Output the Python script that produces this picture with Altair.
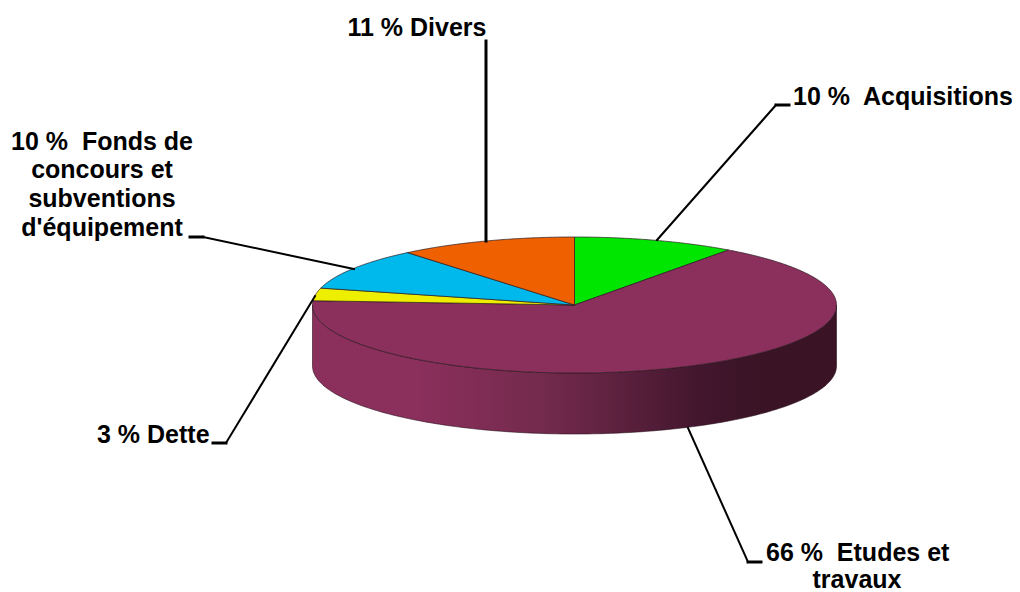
import numpy as np
import pandas as pd
import altair as alt

# Slice data, clockwise from 12 o'clock
categories = ["Acquisitions", "Etudes et travaux", "Dette", "Fonds de concours", "Divers"]
shares = [10, 66, 3, 10, 11]
colors = ["#00E600", "#8B2F5C", "#EEEE00", "#00B9EC", "#EE6000"]

# Ellipse geometry in image pixels
CX, CY, RX, RY, DEPTH = 574.5, 305, 262, 68, 61

label_text = ["11 % Divers", "10 %\u00a0 Fonds de", "concours et", "subventions", "d'équipement",
              "10 %\u00a0 Acquisitions", "3 % Dette", "66 %\u00a0 Etudes et", "travaux"]
label_x = [417, 102, 102, 102, 102, 793, 97, 766, 857]
label_y = [36, 150, 178, 207, 236, 105, 443, 561, 588]
label_align = ["center", "center", "center", "center", "center", "left", "left", "left", "center"]

leader_id = [0, 0, 1, 1, 2, 2, 3, 3, 4, 4, 5, 5, 6, 6, 7, 7, 8, 8]
leader_x = [486, 486, 776, 789, 776, 657, 190, 203, 203, 354, 213, 226, 226, 315, 688, 748, 748, 761]
leader_y = [41, 241, 105, 105, 105, 240, 237, 237, 237, 269, 443, 443, 443, 296, 428, 562, 562, 562]
leader_w = [3, 3, 3, 3, 2, 2, 3, 3, 2, 2, 3, 3, 2, 2, 2, 2, 3, 3]


def ex(t):
    return CX + RX * np.sin(t)


def ey(t):
    return CY - RY * np.cos(t)


x_scale = alt.Scale(domain=[8, 1012], nice=False, zero=False)
y_scale = alt.Scale(domain=[592, 8], nice=False, zero=False)
X = alt.X("x:Q", scale=x_scale, axis=None)
Y = alt.Y("y:Q", scale=y_scale, axis=None)

# Side wall
t = np.radians(np.linspace(90, 270, 181))
wall = pd.DataFrame({"x": ex(t), "y": ey(t), "y2": ey(t) + DEPTH})
wall_layer = alt.Chart(wall).mark_area(
    color=alt.Gradient(
        gradient="linear", x1=0, x2=1, y1=0, y2=0,
        stops=[
            alt.GradientStop(color="#8B2F5C", offset=0),
            alt.GradientStop(color="#8B2F5C", offset=0.2),
            alt.GradientStop(color="#722A4C", offset=0.45),
            alt.GradientStop(color="#43162E", offset=0.74),
            alt.GradientStop(color="#3A1425", offset=0.85),
            alt.GradientStop(color="#3A1425", offset=1),
        ],
    ),
    stroke="#2A0F1C", strokeWidth=0.6,
).encode(x=X, y=Y, y2="y2:Q")

# Top surface wedges, angles derived from the shares
layers = [wall_layer]
edges = np.cumsum([0] + shares) / sum(shares) * 2 * np.pi
for i, col in enumerate(colors):
    a = np.linspace(edges[i], edges[i + 1], max(4, int(shares[i] * 6)))
    xs = np.concatenate([[CX], ex(a), [CX]])
    ys = np.concatenate([[CY], ey(a), [CY]])
    df = pd.DataFrame({"x": xs, "y": ys, "o": np.arange(len(xs))})
    layers.append(
        alt.Chart(df).mark_line(fill=col, stroke="#2A1A20", strokeWidth=0.7, interpolate="linear").encode(
            x=X, y=Y, order="o:Q"
        )
    )

# Leader lines
leaders = pd.DataFrame({"x": leader_x, "y": leader_y, "id": leader_id, "w": leader_w,
                        "o": np.arange(len(leader_x))})
layers.append(
    alt.Chart(leaders).mark_line(color="#000000", strokeCap="square").encode(
        x=X, y=Y, detail="id:N", order="o:Q",
        strokeWidth=alt.StrokeWidth("w:Q", scale=None),
    )
)

# Labels
labels = pd.DataFrame({"x": label_x, "y": label_y, "t": label_text, "a": label_align})
for al in ["left", "center"]:
    layers.append(
        alt.Chart(labels[labels.a == al]).mark_text(
            font="Liberation Sans", fontWeight="bold", fontSize=25, color="#000000",
            align=al, baseline="alphabetic",
        ).encode(x=X, y=Y, text="t:N")
    )

chart = alt.layer(*layers).properties(
    width=1004, height=584, padding=0,
    autosize=alt.AutoSizeParams(type="none"),
    background="#FFFFFF",
).configure_view(stroke=None)

chart.save("out.html", embed_options={"renderer": "svg", "actions": False})
